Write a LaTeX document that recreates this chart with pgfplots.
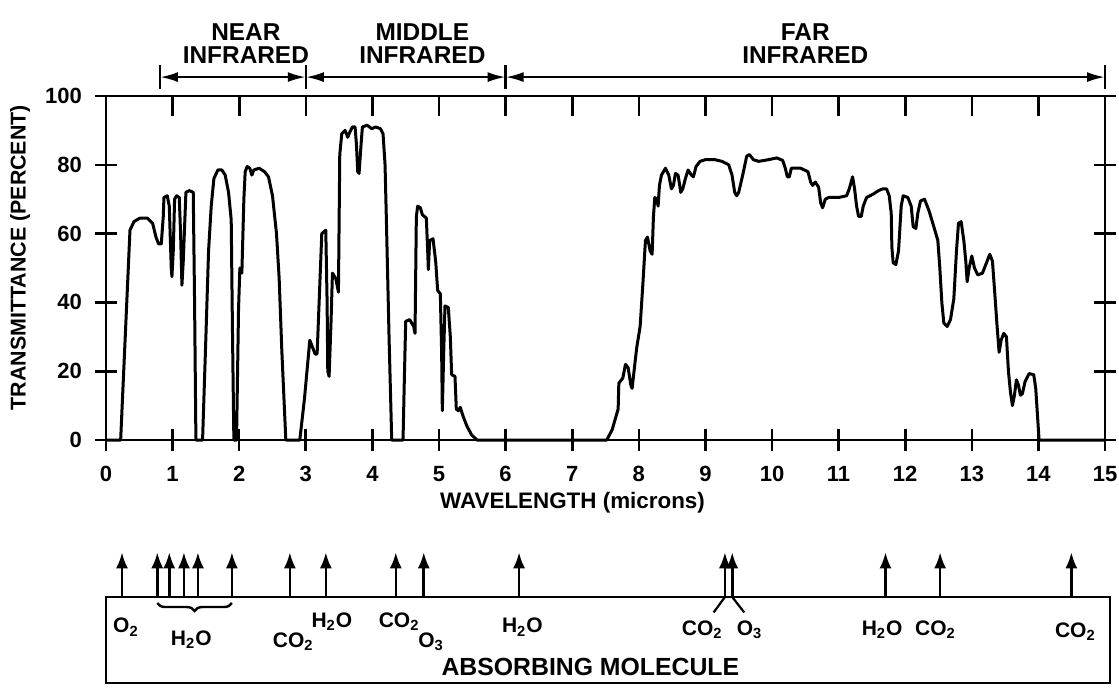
\documentclass[border=0pt]{standalone}
\usepackage{fontspec}
\setmainfont{Liberation Sans}
\usepackage{pgfplots}
\pgfplotsset{compat=1.18}
\usetikzlibrary{arrows.meta,decorations.pathreplacing}

\begin{document}
\begin{tikzpicture}
% ---------------- main transmittance axis ----------------
\begin{axis}[
  at={(0,0)}, anchor=south west,
  scale only axis, width=499.5pt, height=172pt,
  xmin=0, xmax=15, ymin=0, ymax=100,
  xtick={0,...,15}, ytick={0,20,...,100},
  xtick pos=left, ytick pos=both,
  tick align=center, major tick length=11pt,
  axis line style={line width=1.3pt},
  every tick/.style={black, line width=1.3pt},
  tick label style={font=\bfseries\fontsize{11}{13}\selectfont},
  xticklabel style={yshift=-4pt},
  yticklabel style={xshift=-3pt},
  /pgf/number format/assume math mode=true,
  clip=false,
  xlabel={WAVELENGTH (microns)},
  ylabel={TRANSMITTANCE (PERCENT)},
  every axis x label/.style={at={([yshift=-31.5pt]rel axis cs:0.467,0)}, anchor=center, font=\bfseries\fontsize{11.2}{14}\selectfont},
  every axis y label/.style={at={([xshift=-43pt]rel axis cs:0,0.53)}, rotate=90, anchor=center, font=\bfseries\fontsize{10.7}{14}\selectfont},
]
\addplot[black, line width=1.5pt, line join=round, mark=none] coordinates {
(0,0) (0.22,0) (0.36,61) (0.42,63.5) (0.51,64.5) (0.62,64.5) (0.70,63) (0.75,59) (0.79,57) (0.83,57)
(0.86,65) (0.87,70.5) (0.92,71) (0.95,68) (0.98,50) (0.99,47.5) (1.01,55) (1.03,70) (1.06,71) (1.10,70.5)
(1.12,60) (1.14,45) (1.16,52) (1.20,72) (1.25,72.5) (1.31,72) (1.33,40) (1.35,0)
(1.45,0) (1.50,30) (1.54,55) (1.58,68) (1.62,76) (1.68,78.5) (1.74,78.5) (1.79,77) (1.84,72) (1.88,64) (1.90,30) (1.92,0)
(1.96,0) (1.99,38) (2.01,50) (2.04,48.5) (2.07,70) (2.09,78) (2.12,79.5) (2.16,79) (2.19,77) (2.22,78.5) (2.30,79)
(2.38,78) (2.44,76.5) (2.50,71) (2.56,60) (2.60,47) (2.64,26) (2.70,0)
(2.91,0) (2.98,12) (3.06,29) (3.10,27) (3.14,25) (3.17,25) (3.20,40) (3.24,60) (3.30,61) (3.32,40) (3.33,20)
(3.35,18.5) (3.38,35) (3.40,48.5) (3.45,47) (3.49,43) (3.51,83) (3.54,89) (3.59,90) (3.63,88) (3.66,89.5)
(3.70,91) (3.74,91) (3.76,86) (3.78,78) (3.80,77.5) (3.83,86) (3.85,91) (3.92,91.5) (3.99,90.5) (4.05,91)
(4.12,90.5) (4.16,89) (4.19,80) (4.21,64) (4.25,30) (4.29,0)
(4.46,0) (4.48,18) (4.50,34.5) (4.56,35) (4.62,33) (4.64,31) (4.66,65) (4.68,68) (4.72,67.5) (4.75,65.5)
(4.81,64.5) (4.83,55) (4.84,49.5) (4.86,58) (4.91,58.5) (4.95,52) (4.98,43.5) (5.02,42.5) (5.04,25) (5.05,8.5)
(5.07,25) (5.09,39) (5.14,38.5) (5.17,30) (5.19,19) (5.24,18.5) (5.26,9) (5.29,8.5) (5.32,9.5) (5.36,7)
(5.42,4) (5.49,1.5) (5.57,0)
(7.52,0) (7.60,3) (7.66,7) (7.69,9) (7.70,16.5) (7.76,18) (7.80,22) (7.84,21) (7.88,16) (7.90,15) (7.94,22)
(7.97,27) (8.02,33) (8.06,45) (8.10,58) (8.13,59) (8.17,55) (8.20,54) (8.22,65) (8.24,70.5) (8.27,70) (8.29,68)
(8.31,74) (8.34,77) (8.40,79) (8.45,77) (8.49,73) (8.52,74) (8.55,77.5) (8.59,77) (8.63,72) (8.66,73) (8.70,76)
(8.74,78.5) (8.79,77) (8.82,76.5) (8.86,79.5) (8.92,81) (9.00,81.5) (9.14,81.5) (9.25,81) (9.35,80) (9.40,77)
(9.44,72) (9.47,71) (9.50,72) (9.56,77) (9.62,82.5) (9.66,83) (9.72,81.5) (9.80,81) (9.95,81.5) (10.07,82)
(10.16,81.3) (10.20,79) (10.23,76.5) (10.26,76.5) (10.29,79) (10.43,79) (10.54,78) (10.58,75) (10.61,74)
(10.65,75) (10.70,73.5) (10.73,69) (10.76,67.5) (10.80,70) (10.85,70.5) (11.0,70.5) (11.12,71) (11.16,73)
(11.21,76.5) (11.24,73) (11.27,68) (11.30,65) (11.34,65) (11.37,68) (11.42,70.5) (11.52,71.5) (11.60,72.5)
(11.66,73) (11.72,73) (11.76,71) (11.79,66) (11.80,56) (11.82,51.5) (11.86,51) (11.90,55) (11.94,68) (11.97,71)
(12.04,70.5) (12.09,68) (12.12,62) (12.16,61.5) (12.19,66) (12.23,69.5) (12.29,70) (12.36,66.5) (12.43,62)
(12.49,58) (12.52,50) (12.55,40) (12.58,34) (12.63,33) (12.68,35) (12.73,41) (12.77,55) (12.80,63) (12.84,63.5)
(12.88,58) (12.91,52) (12.93,46) (12.96,50) (13.00,53.5) (13.04,50) (13.09,48) (13.16,48.5) (13.23,52) (13.27,54)
(13.31,52) (13.34,44) (13.38,33) (13.41,25.5) (13.44,29) (13.48,31) (13.52,30) (13.55,20) (13.58,14) (13.61,10)
(13.64,13) (13.67,17.5) (13.70,16) (13.73,13) (13.76,13.5) (13.80,17) (13.86,19.3) (13.93,19) (13.96,15) (14.01,0)
(15,0)
};
% region arrows
\draw[line width=1.2pt, {Latex[length=9pt,width=5pt]}-{Latex[length=9pt,width=5pt]}] (axis cs:0.81,105.5) -- (axis cs:3.0,105.5);
\draw[line width=1.2pt, {Latex[length=9pt,width=5pt]}-{Latex[length=9pt,width=5pt]}] (axis cs:3.0,105.5) -- (axis cs:6.0,105.5);
\draw[line width=1.2pt, {Latex[length=9pt,width=5pt]}-{Latex[length=9pt,width=5pt]}] (axis cs:6.0,105.5) -- (axis cs:15.0,105.5);
\draw[line width=1.2pt] (axis cs:0.81,102) -- (axis cs:0.81,109);
\draw[line width=1.2pt] (axis cs:3.0,102) -- (axis cs:3.0,109);
\draw[line width=1.2pt] (axis cs:6.0,102) -- (axis cs:6.0,109);
\draw[line width=1.2pt] (axis cs:15.0,102) -- (axis cs:15.0,109);
\node[align=center, anchor=south, font=\bfseries\fontsize{12.2}{11.5}\selectfont] at (axis cs:2.1,107.5) {NEAR\\INFRARED};
\node[align=center, anchor=south, font=\bfseries\fontsize{12.2}{11.5}\selectfont] at (axis cs:4.75,107.5) {MIDDLE\\INFRARED};
\node[align=center, anchor=south, font=\bfseries\fontsize{12.2}{11.5}\selectfont] at (axis cs:10.5,107.5) {FAR\\INFRARED};
\end{axis}

% ---------------- top inner ticks ----------------
\begin{axis}[
  at={(0,0)}, anchor=south west,
  scale only axis, width=499.5pt, height=172pt,
  xmin=0, xmax=15, ymin=0, ymax=100,
  axis x line*=top, axis y line=none,
  x axis line style={draw=none},
  xtick={1,...,14}, xticklabels={},
  tick align=inside, major tick length=10pt,
  every tick/.style={black, line width=1.3pt},
]
\end{axis}

% ---------------- absorbing molecule box ----------------
\begin{axis}[
  at={(0,-78.5pt)}, anchor=north west,
  scale only axis, width=502pt, height=43pt,
  xmin=0, xmax=15.07, ymin=0, ymax=1,
  xtick=\empty, ytick=\empty,
  axis line style={line width=1.3pt},
  clip=false,
]
\addplot[black, line width=1.3pt, mark=none, quiver={u=0,v=0.52}, -{Latex[length=8pt,width=6pt]}] table {
x y
0.24 1
0.77 1
0.95 1
1.17 1
1.38 1
1.89 1
2.76 1
3.30 1
4.35 1
4.77 1
6.20 1
9.29 1
9.40 1
11.70 1
12.52 1
14.49 1
};
\draw[line width=1.1pt] (axis cs:9.29,1) -- (axis cs:9.12,0.82);
\draw[line width=1.1pt] (axis cs:9.40,1) -- (axis cs:9.58,0.82);
\draw[line width=1.2pt, decorate, decoration={brace, amplitude=4pt, mirror}] (axis cs:0.77,0.93) -- (axis cs:1.89,0.93);
\node[font=\bfseries\fontsize{10.5}{13}\selectfont, inner sep=0pt] at (axis cs:0.30,0.65) {O\textsubscript{2}};
\node[font=\bfseries\fontsize{10.5}{13}\selectfont, inner sep=0pt] at (axis cs:1.28,0.50) {H\textsubscript{2}O};
\node[font=\bfseries\fontsize{10.5}{13}\selectfont, inner sep=0pt] at (axis cs:2.81,0.48) {CO\textsubscript{2}};
\node[font=\bfseries\fontsize{10.5}{13}\selectfont, inner sep=0pt] at (axis cs:3.39,0.71) {H\textsubscript{2}O};
\node[font=\bfseries\fontsize{10.5}{13}\selectfont, inner sep=0pt] at (axis cs:4.40,0.71) {CO\textsubscript{2}};
\node[font=\bfseries\fontsize{10.5}{13}\selectfont, inner sep=0pt] at (axis cs:4.88,0.48) {O\textsubscript{3}};
\node[font=\bfseries\fontsize{10.5}{13}\selectfont, inner sep=0pt] at (axis cs:6.25,0.65) {H\textsubscript{2}O};
\node[font=\bfseries\fontsize{10.5}{13}\selectfont, inner sep=0pt] at (axis cs:8.95,0.62) {CO\textsubscript{2}};
\node[font=\bfseries\fontsize{10.5}{13}\selectfont, inner sep=0pt] at (axis cs:9.66,0.62) {O\textsubscript{3}};
\node[font=\bfseries\fontsize{10.5}{13}\selectfont, inner sep=0pt] at (axis cs:11.65,0.62) {H\textsubscript{2}O};
\node[font=\bfseries\fontsize{10.5}{13}\selectfont, inner sep=0pt] at (axis cs:12.45,0.62) {CO\textsubscript{2}};
\node[font=\bfseries\fontsize{10.5}{13}\selectfont, inner sep=0pt] at (axis cs:14.55,0.60) {CO\textsubscript{2}};
\node[font=\bfseries\fontsize{12.4}{15}\selectfont] at (axis cs:7.27,0.19) {ABSORBING MOLECULE};
\end{axis}

\pgfresetboundingbox
\path[use as bounding box] (-53pt,220pt) rectangle (506.5pt,-126pt);
\end{tikzpicture}
\end{document}
